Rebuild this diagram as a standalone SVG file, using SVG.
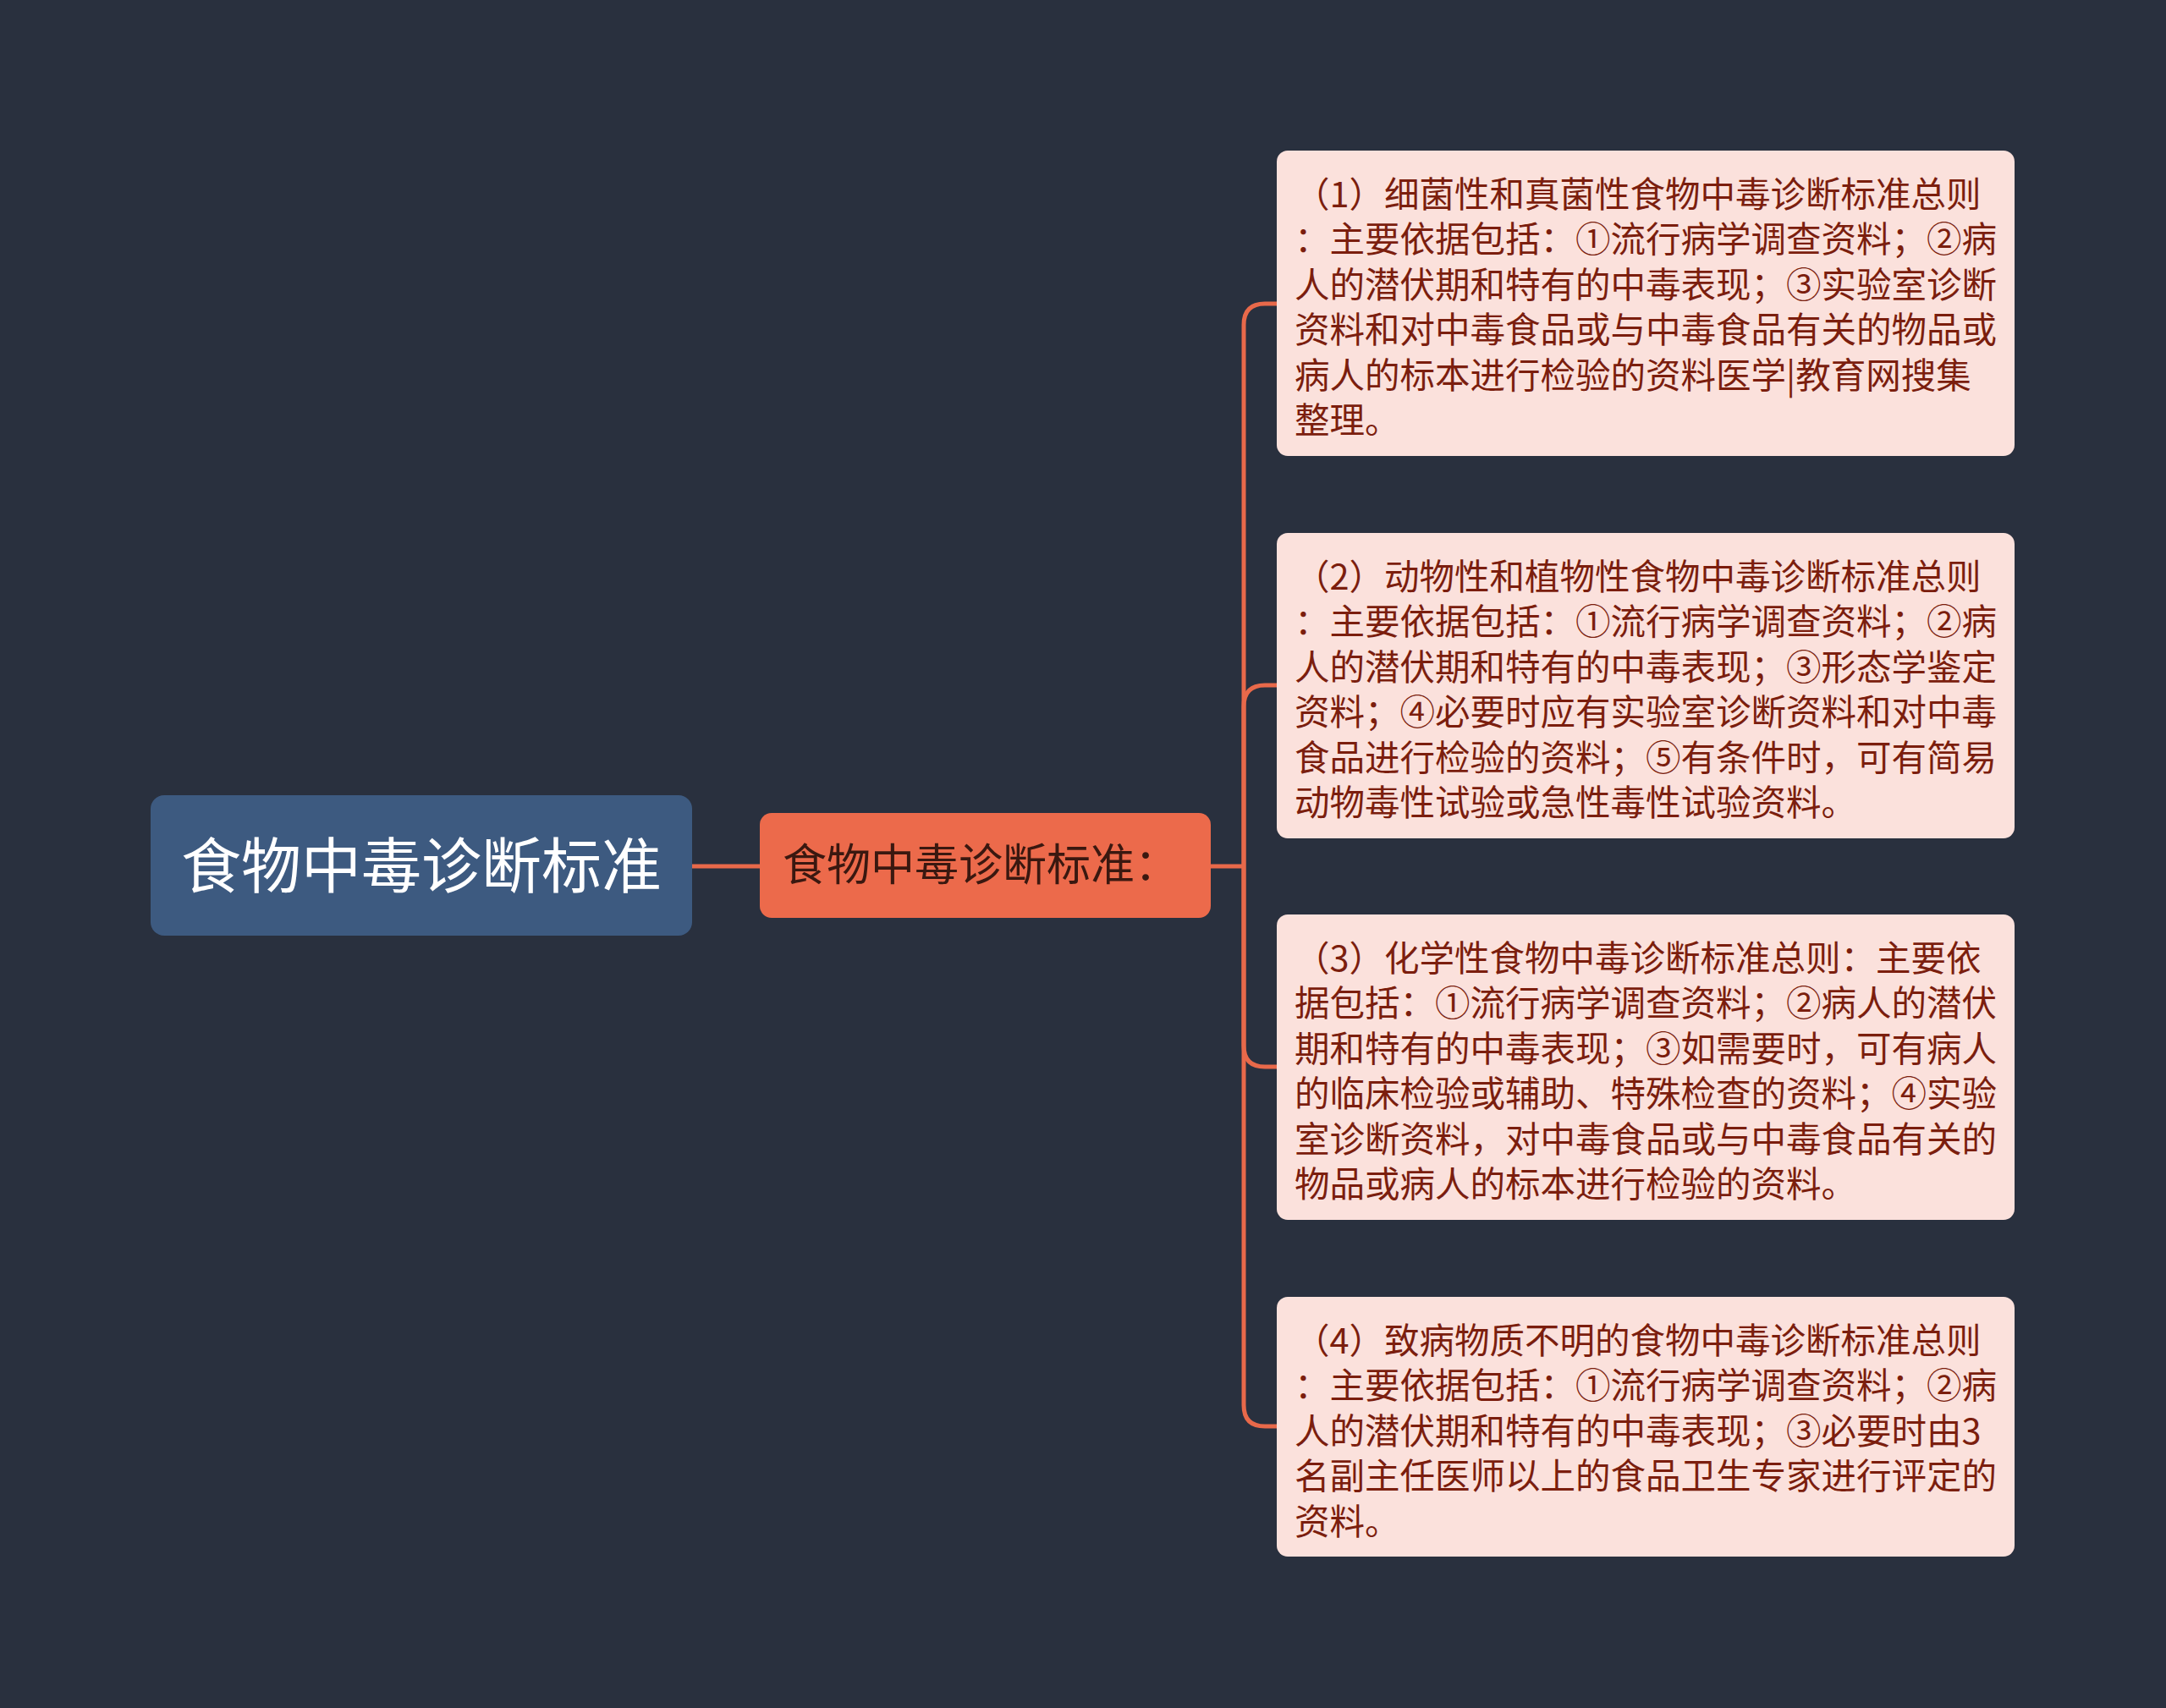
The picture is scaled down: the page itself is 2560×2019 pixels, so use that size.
<svg xmlns="http://www.w3.org/2000/svg" width="2560" height="2019" viewBox="0 0 2560 2019">
<style>
.cn{font-family:"Noto Sans CJK SC","Noto Sans",sans-serif}
.leaf rect{fill:#fbe1dc}
.leaf text{font-size:41.5px;fill:#7b1e0e}
.conn{fill:none;stroke:#e8694a;stroke-width:5}
</style>
<rect x="0" y="0" width="2560" height="2019" fill="#29303e"/>
<g id="connectors">
<path class="conn" d="M818,1024 H899"/>
<path class="conn" d="M1430,1024 H1470"/>
<path class="conn" d="M1470,1024 V384 Q1470,359 1495,359 H1510"/>
<path class="conn" d="M1470,1024 V835 Q1470,810 1495,810 H1510"/>
<path class="conn" d="M1470,1024 V1236 Q1470,1261 1495,1261 H1510"/>
<path class="conn" d="M1470,1024 V1661 Q1470,1686 1495,1686 H1510"/>
</g>
<g id="root">
<rect x="178" y="940" width="640" height="166" rx="16" fill="#3d5a80"/>
<text class="cn" x="498" y="1049" text-anchor="middle" font-size="71" fill="#ffffff">食物中毒诊断标准</text>
</g>
<g id="sub">
<rect x="898" y="961" width="533" height="124" rx="14" fill="#ec6a4b"/>
<text class="cn" x="925" y="1041" font-size="52" fill="#3a1810">食物中毒诊断标准：</text>
</g>
<g id="leaf1" class="leaf">
<rect x="1509" y="178" width="872" height="361" rx="13"/>
<text class="cn" x="1530" y="245">
<tspan x="1530" y="245">（1）细菌性和真菌性食物中毒诊断标准总则</tspan>
<tspan x="1530" y="298.4">：主要依据包括：①流行病学调查资料；②病</tspan>
<tspan x="1530" y="351.8">人的潜伏期和特有的中毒表现；③实验室诊断</tspan>
<tspan x="1530" y="405.2">资料和对中毒食品或与中毒食品有关的物品或</tspan>
<tspan x="1530" y="458.6">病人的标本进行检验的资料医学|教育网搜集</tspan>
<tspan x="1530" y="512">整理。</tspan>
</text>
</g>
<g id="leaf2" class="leaf">
<rect x="1509" y="630" width="872" height="361" rx="13"/>
<text class="cn" x="1530" y="697">
<tspan x="1530" y="697">（2）动物性和植物性食物中毒诊断标准总则</tspan>
<tspan x="1530" y="750.4">：主要依据包括：①流行病学调查资料；②病</tspan>
<tspan x="1530" y="803.8">人的潜伏期和特有的中毒表现；③形态学鉴定</tspan>
<tspan x="1530" y="857.2">资料；④必要时应有实验室诊断资料和对中毒</tspan>
<tspan x="1530" y="910.6">食品进行检验的资料；⑤有条件时，可有简易</tspan>
<tspan x="1530" y="964">动物毒性试验或急性毒性试验资料。</tspan>
</text>
</g>
<g id="leaf3" class="leaf">
<rect x="1509" y="1081" width="872" height="361" rx="13"/>
<text class="cn" x="1530" y="1148">
<tspan x="1530" y="1148">（3）化学性食物中毒诊断标准总则：主要依</tspan>
<tspan x="1530" y="1201.4">据包括：①流行病学调查资料；②病人的潜伏</tspan>
<tspan x="1530" y="1254.8">期和特有的中毒表现；③如需要时，可有病人</tspan>
<tspan x="1530" y="1308.2">的临床检验或辅助、特殊检查的资料；④实验</tspan>
<tspan x="1530" y="1361.6">室诊断资料，对中毒食品或与中毒食品有关的</tspan>
<tspan x="1530" y="1415">物品或病人的标本进行检验的资料。</tspan>
</text>
</g>
<g id="leaf4" class="leaf">
<rect x="1509" y="1533" width="872" height="307" rx="13"/>
<text class="cn" x="1530" y="1600">
<tspan x="1530" y="1600">（4）致病物质不明的食物中毒诊断标准总则</tspan>
<tspan x="1530" y="1653.4">：主要依据包括：①流行病学调查资料；②病</tspan>
<tspan x="1530" y="1706.8">人的潜伏期和特有的中毒表现；③必要时由3</tspan>
<tspan x="1530" y="1760.2">名副主任医师以上的食品卫生专家进行评定的</tspan>
<tspan x="1530" y="1813.6">资料。</tspan>
</text>
</g>
</svg>
